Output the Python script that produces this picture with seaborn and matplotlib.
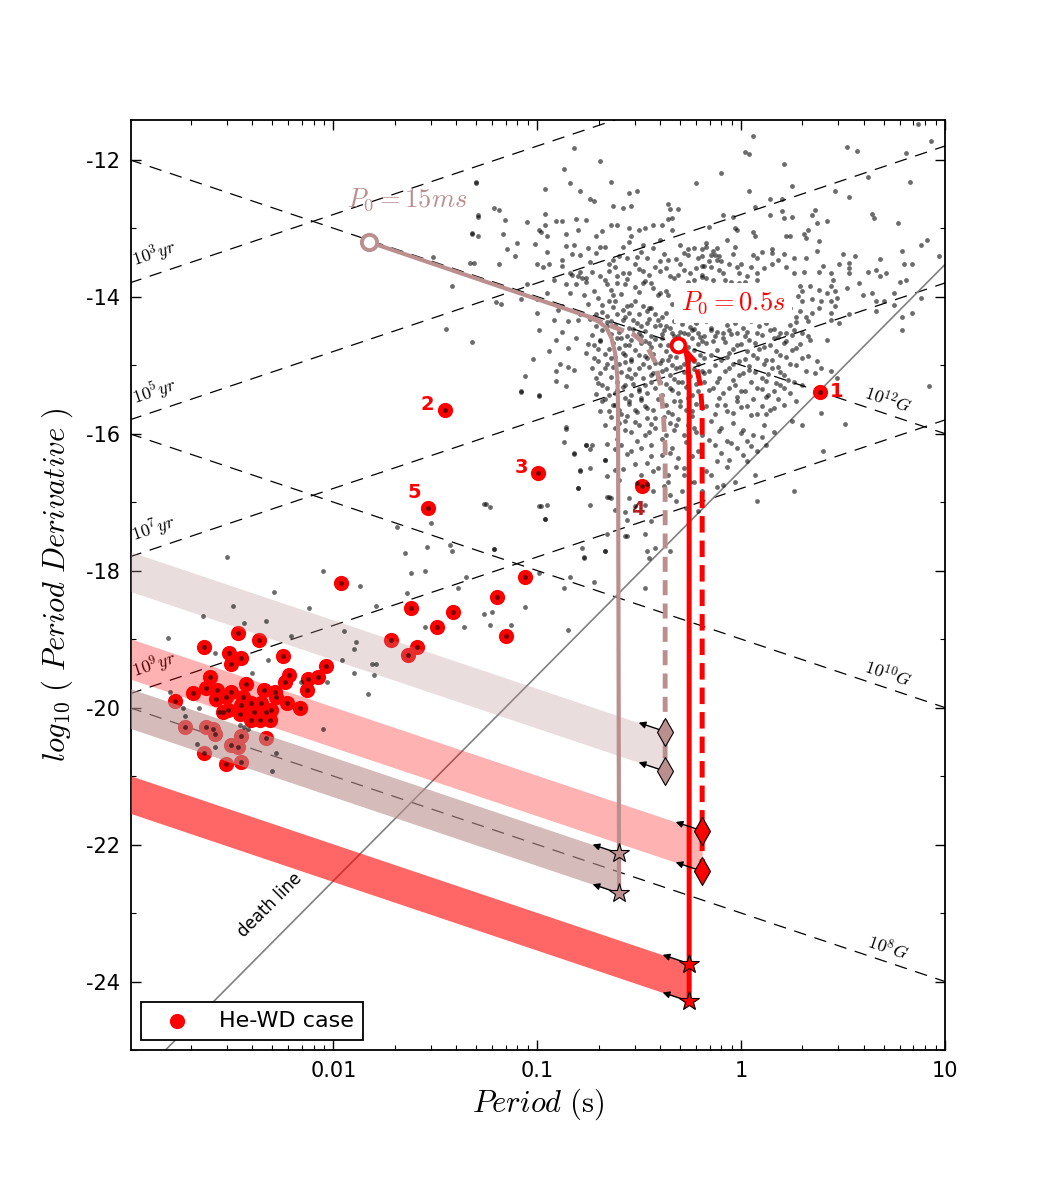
import numpy as np
import matplotlib
matplotlib.use("Agg")
import matplotlib.pyplot as plt
import seaborn as sns
from matplotlib.ticker import FixedLocator, MultipleLocator, LogLocator, NullFormatter

# ---------------- data ----------------
# radio pulsar population, (log10 P[s], log10 Pdot)
psr_upper_left = [
    (-0.82,-11.83),(-0.69,-12.02),(-0.87,-12.14),(-1.30,-12.33),(-0.84,-12.34),(-0.64,-12.32),(-0.96,-12.43),
    (-0.79,-12.45),(-0.55,-12.49),(-0.51,-12.45),(-0.74,-12.58),(-0.72,-12.61),(-0.63,-12.67),(-0.58,-12.70),
    (-0.54,-12.68),(-1.21,-12.71),(-1.19,-12.73),(-1.29,-12.83),(-0.96,-12.79),(-1.16,-12.88),(-0.81,-12.86),
    (-0.76,-12.88),(-0.35,-12.72),(-0.31,-12.72),(-0.36,-12.87),(-0.34,-12.85),(-0.22,-12.34),(-0.36,-12.64),
    (-1.05,-12.91),(-0.99,-13.03),(-0.98,-13.05),(-0.96,-12.95),(-0.91,-12.90),(-0.88,-12.89),(-1.32,-13.08),
    (-1.29,-13.12),(-1.17,-13.09),(-0.95,-13.11),(-0.86,-13.09),(-0.80,-13.02),(-0.71,-13.12),(-0.68,-13.04),
    (-0.64,-12.96),(-0.61,-12.96),(-0.55,-12.99),(-0.50,-13.02),(-0.47,-13.00),(-0.43,-12.95),(-0.39,-12.96),
    (-0.34,-13.02),(-1.10,-13.22),(-1.01,-13.23),(-0.86,-13.26),(-0.82,-13.24),(-0.75,-13.29),(-0.69,-13.27),
    (-0.67,-13.28),(-0.58,-13.28),(-0.55,-13.20),(-0.54,-13.12),(-0.48,-13.24),(-0.43,-13.29),(-0.40,-13.17),
    (-0.30,-13.25),(-0.26,-13.30),(-0.23,-13.29),(-0.19,-13.31),(-0.17,-13.22),(-1.33,-13.51),(-1.31,-13.51),
    (-1.19,-13.52),(-1.11,-13.41),(-1.15,-13.31),(-1.00,-13.53),(-0.94,-13.53),(-0.97,-13.57),(-0.88,-13.46),
    (-0.79,-13.39),(-0.65,-13.52),(-0.63,-13.46),(-0.56,-13.44),(-0.51,-13.42),(-0.46,-13.44),(-0.40,-13.48),
    (-0.36,-13.47),(-0.32,-13.45),(-0.26,-13.39),(-0.21,-13.44),(-0.19,-13.55),(-0.84,-13.65),(-0.83,-13.68),
    (-0.79,-13.64),(-0.80,-13.70),(-0.76,-13.73),(-0.73,-13.64),(-0.69,-13.70),(-0.65,-13.63),(-0.61,-13.70),
    (-0.58,-13.66),(-0.55,-13.65),(-0.50,-13.60),(-0.48,-13.62),(-0.45,-13.68),(-0.40,-13.63),(-0.37,-13.58),
    (-0.35,-13.70),(-0.31,-13.69),(-0.28,-13.61),(-0.25,-13.65),(-0.23,-13.75),(-0.19,-13.71),(-1.05,-13.81),
    (-0.86,-13.82),(-0.81,-13.81),(-0.76,-13.78),(-0.66,-13.82),(-0.64,-13.90),(-0.63,-13.97),(-0.61,-13.80),
    (-0.57,-13.82),(-0.52,-13.86),(-0.48,-13.80),(-0.44,-13.80),(-0.43,-13.87),(-0.40,-13.95),(-0.37,-13.91),
    (-0.36,-13.97),(-0.95,-13.94),(-1.00,-14.04),(-1.20,-14.08),(-1.18,-14.10),(-1.08,-14.04),(-0.90,-14.20),
    (-1.00,-14.24),(-0.77,-13.97),(-0.70,-14.02),(-0.68,-14.12),(-0.65,-14.07),(-0.62,-14.07),(-0.58,-14.19),
    (-0.56,-14.14),(-0.52,-14.07),(-0.48,-14.14),(-0.46,-14.21),(-0.44,-14.17),(-0.42,-14.26),(-0.41,-14.34),
    (-0.37,-14.24),(-0.50,-14.26),(-0.53,-14.34),(-0.57,-14.29),(-0.61,-14.26),(-0.64,-14.36),(-0.49,-14.43),
    (-0.46,-14.38),(-0.42,-14.43),(-0.37,-14.43),(-0.34,-14.53),(-0.31,-14.58),(-0.28,-14.53),(-0.24,-14.48),
    (-0.21,-14.53),(-0.18,-14.58),(-0.92,-14.34),(-0.85,-14.36),(-0.80,-14.34),(-0.99,-14.48),(-0.88,-14.52),
    (-0.71,-14.26),(-0.68,-14.23),(-0.66,-14.43),
    (-1.30,-12.34),(-1.51,-13.42),(-1.42,-13.85),(-1.45,-14.47),(-1.32,-14.66),(-1.32,-13.07),(-1.29,-12.80),
    (-0.95,-13.35),(-0.83,-13.38),(-0.71,-13.36),(-0.60,-13.40),(-0.49,-13.35),(-0.38,-13.38),(-0.28,-13.36),
    (-0.88,-13.55),(-0.74,-13.50),(-0.62,-13.57),(-0.52,-13.52),(-0.42,-13.56),(-0.30,-13.52),(-0.22,-13.58),
    (-0.92,-13.75),(-0.78,-13.72),(-0.67,-13.76),(-0.56,-13.74),(-0.47,-13.77),(-0.33,-13.73),(-0.26,-13.78),
    (-0.84,-13.95),(-0.72,-13.92),(-0.59,-13.96),(-0.50,-13.93),(-0.41,-13.97),(-0.30,-13.94),(-0.21,-13.97),
    (-0.88,-14.13),(-0.75,-14.10),(-0.63,-14.15),(-0.54,-14.12),(-0.45,-14.16),(-0.34,-14.11),(-0.26,-14.15),
    (-0.19,-14.12),(-0.79,-14.25),(-0.66,-14.28),(-0.55,-14.24),(-0.39,-14.29),(-0.29,-14.25),(-0.22,-14.28),
]
psr_upper_right = [
    (0.06,-11.65),(0.87,-11.48),(0.93,-11.72),(0.02,-11.88),(0.04,-11.92),(0.52,-11.81),(0.57,-11.87),
    (-0.10,-12.20),(0.21,-12.06),(0.81,-11.90),(0.83,-12.33),(0.62,-12.25),(0.04,-12.45),(0.25,-12.38),
    (0.46,-12.45),(0.53,-12.55),(0.14,-12.58),(0.20,-12.57),(0.20,-12.75),(0.07,-12.69),(-0.09,-12.80),
    (-0.04,-12.84),(0.14,-12.81),(0.21,-12.85),(0.25,-12.83),(0.35,-12.80),(0.36,-12.73),(0.42,-12.89),
    (0.37,-12.93),(0.64,-12.79),(0.65,-12.85),(0.77,-12.93),(-0.03,-13.00),(-0.02,-13.03),(-0.16,-12.98),
    (-0.07,-13.17),(0.06,-13.06),(0.07,-13.12),(0.22,-13.12),(0.24,-13.11),(0.31,-13.08),(0.33,-13.02),
    (0.32,-13.14),(0.38,-13.19),(-0.17,-13.27),(-0.12,-13.29),(-0.03,-13.28),(0.15,-13.30),(0.15,-13.36),
    (0.06,-13.39),(0.08,-13.43),(0.11,-13.58),(0.00,-13.52),(-0.02,-13.57),(0.18,-13.47),(0.26,-13.44),
    (0.32,-13.44),(0.48,-13.53),(0.53,-13.51),(0.53,-13.58),(0.56,-13.41),(0.68,-13.45),(0.79,-13.34),
    (0.80,-13.53),(0.84,-13.53),(0.88,-13.24),(0.91,-13.17),(0.97,-13.40),(-0.19,-13.41),(-0.15,-13.39),
    (-0.13,-13.39),(-0.11,-13.40),(-0.16,-13.48),(-0.12,-13.46),(-0.10,-13.48),(-0.15,-13.56),(-0.11,-13.61),
    (-0.09,-13.65),(-0.19,-13.68),(-0.17,-13.73),(-0.14,-13.75),(-0.08,-13.75),(-0.05,-13.79),(-0.01,-13.80),
    (0.02,-13.79),(0.08,-13.66),(0.08,-13.75),(-0.01,-13.65),(0.03,-13.70),(0.26,-13.65),(0.31,-13.64),
    (0.38,-13.64),(0.44,-13.65),(0.45,-13.75),(0.44,-13.85),(0.29,-13.85),(0.30,-13.91),(0.34,-13.85),
    (0.38,-13.90),(0.42,-13.95),(0.46,-13.92),(0.28,-13.99),(0.30,-14.07),(0.35,-14.04),(0.39,-14.07),
    (0.44,-14.07),(0.47,-14.02),(0.29,-14.21),(0.32,-14.29),(0.35,-14.24),(0.44,-14.24),(0.46,-14.14),
    (0.44,-14.34),(0.33,-14.36),(0.53,-13.65),(0.58,-13.80),(0.62,-13.64),(0.66,-13.61),(0.68,-13.70),
    (0.71,-13.66),(0.78,-13.78),(0.81,-13.75),(0.60,-13.97),(0.64,-13.95),(0.66,-14.07),(0.66,-14.21),
    (0.70,-14.07),(0.75,-14.12),(0.75,-13.95),(0.88,-14.02),(0.79,-14.29),(0.84,-14.24),(0.53,-14.26),
    (0.48,-14.38),(0.79,-14.48),(-0.15,-14.48),(-0.12,-14.51),(-0.09,-14.53),(-0.06,-14.49),(-0.02,-14.53),
    (0.03,-14.51),(0.08,-14.53),(0.14,-14.49),(0.19,-14.53),(0.22,-14.53),(0.26,-14.48),(0.30,-14.53),
    (-0.14,-13.33),(-0.04,-13.37),(0.10,-13.35),(0.21,-13.38),(0.37,-13.33),(0.50,-13.37),
    (-0.18,-13.55),(-0.06,-13.52),(0.05,-13.56),(0.15,-13.53),(0.22,-13.57),(0.40,-13.55),
    (-0.12,-13.86),(-0.02,-13.88),(0.07,-13.84),(0.14,-13.89),(0.22,-13.86),(0.52,-13.88),
    (-0.17,-14.02),(-0.07,-14.05),(0.04,-14.01),(0.12,-14.06),(0.19,-14.03),(0.38,-14.17),
    (-0.13,-14.18),(-0.03,-14.22),(0.07,-14.17),(0.16,-14.21),(0.24,-14.16),
    (-0.16,-14.28),(-0.06,-14.30),(0.03,-14.27),(0.11,-14.29),(0.20,-14.26),(0.27,-14.30),
]
psr_core = [
    (-0.72,-14.70),(-0.69,-14.65),(-0.65,-14.77),(-0.59,-14.60),(-0.57,-14.70),(-0.54,-14.63),(-0.49,-14.58),
    (-0.45,-14.68),(-0.39,-14.60),(-0.36,-14.70),(-0.26,-14.73),(-0.19,-14.65),(-0.70,-14.94),(-0.67,-15.04),
    (-0.64,-14.90),(-0.60,-14.99),(-0.57,-14.85),(-0.54,-14.94),(-0.50,-15.04),(-0.47,-14.87),(-0.42,-14.97),
    (-0.39,-15.09),(-0.36,-14.92),(-0.32,-15.04),(-0.28,-14.99),(-0.23,-14.94),(-0.19,-15.09),(-0.71,-15.19),
    (-0.68,-15.29),(-0.65,-15.43),(-0.61,-15.36),(-0.57,-15.29),(-0.54,-15.19),(-0.50,-15.38),(-0.47,-15.29),
    (-0.44,-15.14),(-0.40,-15.24),(-0.35,-15.33),(-0.31,-15.24),(-0.26,-15.29),(-0.21,-15.38),(-0.18,-15.24),
    (-0.68,-15.53),(-0.65,-15.67),(-0.62,-15.58),(-0.59,-15.72),(-0.55,-15.53),(-0.52,-15.65),(-0.49,-15.48),
    (-0.46,-15.63),(-0.42,-15.77),(-0.37,-15.58),(-0.34,-15.72),(-0.30,-15.53),(-0.24,-15.67),(-0.19,-15.63),
    (-0.67,-15.87),(-0.62,-15.92),(-0.57,-15.82),(-0.54,-15.97),(-0.50,-15.87),(-0.47,-16.02),(-0.42,-15.92),
    (-0.37,-16.02),(-0.32,-15.87),(-0.28,-16.02),(-0.23,-15.92),(-0.19,-16.02),(-0.59,-16.16),(-0.54,-16.26),
    (-0.49,-16.21),(-0.44,-16.16),(-0.39,-16.31),(-0.34,-16.21),(-0.31,-16.36),(-0.21,-16.26),(-0.52,-16.45),
    (-0.46,-16.43),(-0.41,-16.50),(-0.32,-16.48),(-0.28,-16.60),(-0.36,-16.60),(-0.49,-16.60),
    (-0.14,-14.65),(-0.09,-14.60),(-0.02,-14.70),(0.04,-14.63),(0.11,-14.73),(0.16,-14.60),(0.22,-14.65),
    (0.27,-14.75),(0.34,-14.63),(0.42,-14.63),(-0.15,-14.85),(-0.10,-14.92),(-0.06,-14.82),(-0.01,-14.94),
    (0.06,-14.85),(0.12,-14.92),(0.19,-14.85),(0.24,-14.99),(0.30,-14.90),(0.37,-14.94),(-0.16,-15.09),
    (-0.11,-15.19),(-0.06,-15.04),(-0.01,-15.14),(0.04,-15.07),(0.10,-15.19),(0.15,-15.04),(0.21,-15.14),
    (0.26,-15.24),(0.32,-15.09),(0.39,-15.04),(0.44,-15.09),(0.47,-15.19),(-0.14,-15.33),(-0.09,-15.41),
    (-0.03,-15.29),(0.02,-15.38),(0.08,-15.33),(0.13,-15.43),(0.19,-15.29),(0.24,-15.41),(0.27,-15.53),
    (0.30,-15.29),(0.39,-15.70),(-0.12,-15.58),(-0.07,-15.67),(-0.02,-15.53),(0.03,-15.60),(0.08,-15.72),
    (0.14,-15.65),(0.21,-15.58),(0.25,-15.82),(0.30,-15.87),(-0.15,-15.82),(-0.10,-15.92),(-0.04,-15.84),
    (0.01,-15.94),(0.06,-16.02),(0.11,-15.87),(0.16,-15.97),(-0.13,-16.16),(-0.07,-16.11),(-0.02,-16.21),
    (0.03,-16.11),(0.08,-16.26),(0.12,-16.16),(-0.12,-16.40),(-0.06,-16.38),(0.03,-16.40),(0.07,-16.60),
    (0.08,-16.99),(0.26,-16.84),(0.40,-16.26),(0.51,-15.86),(0.92,-15.31),(-0.09,-16.75),(-0.03,-16.70),
    (-0.15,-16.60),
]
psr_core_dense = [
    (-0.74,-14.33),(-0.66,-14.37),(-0.58,-14.34),(-0.51,-14.38),(-0.45,-14.32),(-0.33,-14.36),(-0.27,-14.33),
    (-0.22,-14.39),(-0.71,-14.43),(-0.62,-14.41),(-0.55,-14.45),(-0.40,-14.42),(-0.35,-14.46),(-0.29,-14.40),
    (-0.25,-14.44),(-0.68,-14.49),(-0.60,-14.51),(-0.53,-14.47),(-0.47,-14.50),(-0.38,-14.48),(-0.30,-14.52),
    (-0.23,-14.47),(-0.73,-14.56),(-0.64,-14.54),(-0.56,-14.57),(-0.50,-14.53),(-0.44,-14.58),(-0.39,-14.55),
    (-0.33,-14.57),(-0.26,-14.55),(-0.20,-14.59),(-0.69,-14.63),(-0.61,-14.61),(-0.47,-14.64),(-0.42,-14.62),
    (-0.31,-14.65),(-0.24,-14.61),(-0.75,-14.69),(-0.63,-14.67),(-0.55,-14.71),(-0.49,-14.68),(-0.40,-14.70),
    (-0.34,-14.67),(-0.28,-14.71),(-0.21,-14.69),(-0.70,-14.77),(-0.60,-14.75),(-0.52,-14.78),(-0.44,-14.74),
    (-0.37,-14.79),(-0.30,-14.76),(-0.23,-14.78),(-0.67,-14.84),(-0.58,-14.82),(-0.50,-14.85),(-0.43,-14.83),
    (-0.35,-14.86),(-0.27,-14.82),(-0.20,-14.85),(-0.72,-14.90),(-0.62,-14.88),(-0.54,-14.91),(-0.46,-14.89),
    (-0.39,-14.92),(-0.32,-14.88),(-0.25,-14.91),(-0.66,-14.98),(-0.57,-14.96),(-0.48,-14.99),(-0.40,-14.97),
    (-0.34,-15.00),(-0.26,-14.96),(-0.21,-14.99),(-0.73,-15.04),(-0.63,-15.02),(-0.55,-15.05),(-0.45,-15.03),
    (-0.37,-15.06),(-0.30,-15.02),(-0.23,-15.05),(-0.69,-15.12),(-0.59,-15.10),(-0.52,-15.13),(-0.43,-15.11),
    (-0.35,-15.14),(-0.28,-15.10),(-0.21,-15.13),(-0.64,-15.18),(-0.56,-15.16),(-0.48,-15.19),(-0.41,-15.17),
    (-0.33,-15.20),(-0.25,-15.16),(-0.70,-15.26),(-0.61,-15.24),(-0.53,-15.27),(-0.44,-15.25),(-0.37,-15.28),
    (-0.29,-15.24),(-0.22,-15.27),(-0.66,-15.34),(-0.58,-15.32),(-0.50,-15.35),(-0.42,-15.33),(-0.34,-15.36),
    (-0.27,-15.32),(-0.71,-15.42),(-0.62,-15.40),(-0.54,-15.43),(-0.46,-15.41),(-0.39,-15.44),(-0.31,-15.40),
    (-0.24,-15.43),(-0.67,-15.50),(-0.57,-15.48),(-0.49,-15.51),(-0.41,-15.49),(-0.33,-15.52),(-0.26,-15.48),
    (-0.63,-15.58),(-0.55,-15.56),(-0.47,-15.59),(-0.39,-15.57),(-0.30,-15.60),(-0.22,-15.56),(-0.69,-15.67),
    (-0.60,-15.65),(-0.51,-15.68),(-0.43,-15.66),(-0.36,-15.69),(-0.27,-15.65),(-0.64,-15.76),(-0.56,-15.74),
    (-0.46,-15.77),(-0.38,-15.75),(-0.31,-15.78),(-0.24,-15.74),(-0.60,-15.85),(-0.52,-15.83),(-0.44,-15.86),
    (-0.35,-15.84),(-0.26,-15.87),
    (-0.17,-14.36),(-0.10,-14.33),(-0.03,-14.38),(0.05,-14.35),(0.12,-14.39),(0.20,-14.34),(0.27,-14.37),
    (-0.15,-14.45),(-0.07,-14.42),(0.01,-14.46),(0.09,-14.43),(0.16,-14.47),(0.24,-14.42),(-0.13,-14.57),
    (-0.05,-14.55),(0.02,-14.58),(0.10,-14.56),(0.18,-14.59),(0.25,-14.56),(0.33,-14.58),(-0.17,-14.68),
    (-0.08,-14.66),(0.00,-14.69),(0.07,-14.67),(0.14,-14.70),(0.21,-14.67),(0.29,-14.69),(-0.12,-14.78),
    (-0.04,-14.76),(0.03,-14.79),(0.09,-14.77),(0.17,-14.80),(0.25,-14.78),(-0.18,-14.90),(-0.07,-14.88),
    (0.02,-14.91),(0.08,-14.89),(0.15,-14.92),(0.22,-14.88),(0.33,-14.87),(-0.13,-15.00),(-0.04,-14.98),
    (0.04,-15.01),(0.11,-14.99),(0.18,-15.02),(0.27,-15.00),(-0.18,-15.11),(-0.08,-15.09),(0.01,-15.12),
    (0.07,-15.10),(0.13,-15.13),(0.19,-15.10),(0.36,-15.12),(-0.12,-15.24),(-0.04,-15.22),(0.05,-15.25),
    (0.12,-15.23),(0.17,-15.26),(0.23,-15.22),(-0.16,-15.36),(-0.06,-15.34),(0.00,-15.37),(0.10,-15.35),
    (0.16,-15.38),(0.21,-15.34),(-0.11,-15.48),(-0.02,-15.46),(0.06,-15.49),(0.12,-15.47),(0.18,-15.50),
    (-0.17,-15.60),(-0.08,-15.58),(0.00,-15.61),(0.10,-15.59),(0.16,-15.62),(-0.13,-15.72),(-0.04,-15.70),
    (0.05,-15.73),(0.12,-15.71),
    (-0.57,-15.95),(-0.45,-15.98),(-0.33,-15.95),(-0.22,-15.98),(-0.11,-15.96),(0.00,-15.99),(0.10,-16.05),
    (-0.61,-16.08),(-0.51,-16.11),(-0.39,-16.08),(-0.27,-16.12),(-0.16,-16.09),(-0.05,-16.13),(0.05,-16.18),
    (-0.56,-16.30),(-0.44,-16.33),(-0.35,-16.28),(-0.24,-16.32),(-0.10,-16.28),(0.01,-16.31),
    (-0.58,-16.52),(-0.43,-16.55),(-0.28,-16.50),(-0.17,-16.54),(-0.07,-16.49),
    (-0.51,-16.72),(-0.38,-16.76),(-0.25,-16.71),(-0.12,-16.78),
]
psr_lower = [
    (-0.91,-14.63),(-0.81,-14.61),(-0.94,-14.80),(-0.85,-14.75),(-0.76,-14.82),(-1.02,-14.91),(-1.06,-15.16),
    (-1.08,-15.37),(-0.99,-15.44),(-0.91,-15.09),(-0.89,-14.98),(-0.85,-15.02),(-0.82,-15.07),(-0.91,-15.23),
    (-0.86,-15.31),(-0.86,-15.93),(-0.87,-16.12),(-0.82,-16.28),(-0.76,-16.16),(-0.73,-16.16),(-0.66,-16.15),
    (-0.67,-16.39),(-0.62,-16.23),(-0.62,-16.53),(-0.66,-16.62),(-0.79,-16.54),(-0.80,-16.79),(-0.98,-17.06),
    (-0.95,-17.04),(-0.96,-17.25),(-1.26,-17.03),(-1.23,-17.07),(-1.21,-17.69),(-0.74,-17.04),(-0.66,-16.93),
    (-0.64,-16.94),(-0.62,-17.11),(-0.66,-17.47),(-0.56,-17.50),(-0.67,-17.72),(-0.77,-17.81),(-0.78,-17.67),
    (-0.56,-17.26),(-0.47,-17.47),(-0.44,-17.28),(-0.42,-17.67),(-0.45,-17.81),(-0.55,-16.94),(-0.52,-17.06),
    (-0.47,-17.04),(-0.43,-16.84),(-0.46,-16.74),(-0.36,-16.70),(-0.35,-16.89),(-0.32,-16.99),(-0.29,-16.84),
    (-0.23,-16.70),(-0.19,-16.84),(-0.27,-17.09),(-0.21,-17.13),
    (-1.08,-15.39),(-0.99,-15.45),(-0.86,-15.91),(-0.82,-16.29),(-0.76,-16.16),(-0.74,-16.23),(-0.80,-16.79),
    (-0.79,-16.53),(-0.74,-16.50),(-0.67,-16.38),(-1.25,-17.02),(-0.99,-17.05),(-0.96,-17.24),(-1.52,-17.30),
    (-1.69,-17.36),(-1.54,-17.66),(-1.43,-17.62),(-1.42,-17.71),(-1.21,-17.69),(-1.65,-17.75),(-1.62,-18.03),
    (-1.55,-18.00),(-1.35,-18.09),(-0.99,-18.04),(-0.84,-18.09),(-0.72,-18.16),(-0.87,-18.26),(-0.77,-17.80),
    (-0.67,-17.72),(-0.57,-17.50),(-0.46,-17.71),(-0.35,-17.72),(-0.47,-18.25),(-0.65,-16.93),(-0.57,-17.15),
    (-0.60,-16.67),(-1.64,-18.32),(-1.39,-18.26),(-1.26,-18.63),(-1.22,-18.60),(-1.23,-18.79),(-1.55,-18.82),
    (-1.36,-18.83),(-1.13,-18.79),(-1.06,-18.53),(-0.85,-18.86),
]
psr_msp = [
    (-2.52,-17.80),(-2.05,-18.01),(-1.87,-18.23),(-2.29,-18.31),(-2.49,-18.51),(-2.12,-18.54),(-1.79,-18.51),
    (-2.64,-18.66),(-2.44,-18.77),(-2.33,-18.74),(-1.95,-18.88),(-1.89,-19.04),(-1.90,-19.14),(-2.21,-18.95),
    (-2.81,-18.98),(-2.58,-19.20),(-2.32,-19.30),(-1.96,-19.31),(-1.81,-19.36),(-1.79,-19.36),(-2.40,-19.49),
    (-1.90,-19.50),(-1.80,-19.52),(-2.16,-19.62),(-2.03,-19.62),(-2.80,-19.77),(-1.83,-19.80),(-2.74,-20.01),
    (-2.66,-20.00),(-2.73,-20.12),(-2.56,-20.07),(-2.05,-20.31),(-2.46,-20.26),(-2.44,-20.28),(-2.42,-20.31),
    (-2.67,-20.53),(-2.58,-20.57),(-2.28,-20.66),(-2.30,-20.92),
]

# He-WD binary pulsars, (P [s], log10 Pdot)
hewd = [
    (0.01094,-18.18),(0.00342,-18.91),(0.00434,-19.02),(0.00231,-19.11),(0.00309,-19.21),(0.00354,-19.27),
    (0.00316,-19.37),(0.00569,-19.24),(0.00925,-19.39),(0.00608,-19.52),(0.00582,-19.62),(0.00753,-19.58),
    (0.00843,-19.55),(0.00746,-19.75),(0.00247,-19.56),(0.00236,-19.72),(0.00206,-19.78),(0.00168,-19.91),
    (0.00270,-19.75),(0.00267,-19.87),(0.00316,-19.77),(0.00296,-19.84),(0.00371,-19.65),(0.00362,-19.84),
    (0.00459,-19.74),(0.00520,-19.77),(0.00526,-19.85),(0.00289,-20.06),(0.00305,-20.03),(0.00354,-19.96),
    (0.00350,-20.10),(0.00396,-19.93),(0.00406,-20.07),(0.00444,-19.93),(0.00465,-20.07),(0.00497,-20.03),
    (0.00491,-20.18),(0.00589,-19.94),(0.00689,-20.01),(0.00396,-20.18),(0.00439,-20.18),(0.00188,-20.29),
    (0.00236,-20.28),(0.00258,-20.31),(0.00264,-20.39),(0.00316,-20.54),(0.00354,-20.42),(0.00342,-20.58),
    (0.00465,-20.44),(0.00354,-20.79),(0.00233,-20.66),(0.00296,-20.83),(0.0873,-18.09),(0.0637,-18.39),
    (0.0241,-18.54),(0.0387,-18.61),(0.0324,-18.83),(0.0705,-18.96),(0.0192,-19.01),(0.0233,-19.23),
    (0.0258,-19.12),
]
numbered_P = [2.44, 0.0354, 0.101, 0.327, 0.0292]
numbered_logPdot = [-15.39, -15.65, -16.57, -16.76, -17.08]
numbered_text = ["1", "2", "3", "4", "5"]

# reference lines: value at P = 0.001 s and at P = 10 s
age_names = [r"$10^3yr$", r"$10^5yr$", r"$10^7yr$", r"$10^9yr$"]
age_left = [-13.8, -15.8, -17.8, -19.8]
age_right = [-9.8, -11.8, -13.8, -15.8]
field_names = [r"$10^{12}G$", r"$10^{10}G$", r"$10^8G$"]
field_left = [-12.0, -16.0, -20.0]
field_right = [-16.0, -20.0, -24.0]
death_left, death_right = -25.53, -13.53

# evolution tracks
track15_P = [0.0149, 0.178, 0.199, 0.218, 0.231, 0.241, 0.247, 0.249, 0.252]
track15_logPdot = [-13.20, -14.29, -14.36, -14.45, -14.60, -14.82, -15.17, -15.55, -22.70]
track15d_P = [0.178, 0.236, 0.296, 0.342, 0.378, 0.401, 0.415, 0.424, 0.424]
track15d_logPdot = [-14.29, -14.44, -14.55, -14.70, -14.95, -15.28, -15.69, -16.19, -20.91]
track05_P = [0.490, 0.514, 0.537, 0.550, 0.556, 0.556]
track05_logPdot = [-14.70, -14.73, -14.80, -14.99, -15.36, -24.29]
track05d_P = [0.526, 0.596, 0.630, 0.644, 0.644]
track05d_logPdot = [-14.77, -14.95, -15.28, -15.65, -22.39]

# shaded bands (edges at P = 0.001 s and at the end period)
band_top_left = [-17.72, -18.99, -19.72, -20.99]
band_bot_left = [-18.30, -19.58, -20.30, -21.54]
band_P_end = [0.424, 0.644, 0.252, 0.556]
band_top_right = [-20.35, -21.80, -22.13, -23.74]
band_bot_right = [-20.93, -22.39, -22.71, -24.29]

# ---------------- style ----------------
sns.set_style("ticks")
plt.rcParams.update({
    "font.family": ["DejaVu Sans"],
    "mathtext.fontset": "cm",
    "axes.unicode_minus": False,
    "xtick.direction": "in", "ytick.direction": "in",
    "xtick.top": True, "ytick.right": True,
    "xtick.major.size": 7, "ytick.major.size": 7,
    "xtick.minor.size": 3.5, "ytick.minor.size": 3.5,
    "xtick.major.width": 1, "ytick.major.width": 1,
    "xtick.minor.width": 0.8, "ytick.minor.width": 0.8,
    "xtick.color": "k", "ytick.color": "k",
    "axes.edgecolor": "k", "axes.linewidth": 1.3,
    "text.color": "k", "axes.labelcolor": "k",
})

brown = "#bc8f8f"
band_colors = [brown, "red", brown, "red"]
band_alpha = [0.3, 0.3, 0.6, 0.6]
band_marker = ["d", "d", "*", "*"]

fig = plt.figure(figsize=(10.5, 12), dpi=100)
ax = fig.add_axes([0.125, 0.125, 0.775, 0.775])
ax.set_xscale("log")

P_lim = [1e-3, 10.0]
for lo, hi in zip(age_left, age_right):
    ax.plot(P_lim, [lo, hi], color="k", lw=0.9, dashes=(10, 7), zorder=1.5)
for lo, hi in zip(field_left, field_right):
    ax.plot(P_lim, [lo, hi], color="k", lw=0.9, dashes=(10, 7), zorder=1.5)
ax.plot(P_lim, [death_left, death_right], color="gray", lw=1.2, zorder=1.6)

for name, lo in zip(age_names, age_left):
    ax.text(10**-2.88, lo + 0.42, name, fontsize=13, rotation=18.6,
            ha="center", va="center", rotation_mode="anchor")
for name, hi in zip(field_names, field_right):
    ax.text(10**0.72, hi + 0.48, name, fontsize=13, rotation=-18.6,
            ha="center", va="center", rotation_mode="anchor")
ax.text(0.0049, -22.88, "death line", fontsize=12, rotation=45,
        ha="center", va="center", rotation_mode="anchor")

# bands
for tl, bl, pe, tr, br, c, a in zip(band_top_left, band_bot_left, band_P_end,
                                     band_top_right, band_bot_right, band_colors, band_alpha):
    ax.fill_between([1e-3, pe], [tl, tr], [bl, br], color=c, alpha=a, lw=0, zorder=3)

# He-WD systems
hewd_arr = np.array(hewd)
sns.scatterplot(x=hewd_arr[:, 0], y=hewd_arr[:, 1], ax=ax, color="red", s=120,
                linewidth=0, zorder=2, label="He-WD case")
sns.scatterplot(x=numbered_P, y=numbered_logPdot, ax=ax, color="red", s=120,
                linewidth=0, zorder=2, legend=False)

# pulsar population
psr = np.array(psr_upper_left + psr_upper_right + psr_core + psr_core_dense + psr_lower + psr_msp)
all_x = np.concatenate([10**psr[:, 0], hewd_arr[:, 0], numbered_P])
all_y = np.concatenate([psr[:, 1], hewd_arr[:, 1], numbered_logPdot])
sns.scatterplot(x=all_x, y=all_y, ax=ax, color="k", s=12, alpha=0.58,
                linewidth=0, zorder=4, legend=False)

# tracks
ax.plot(track15_P, track15_logPdot, color=brown, lw=3, zorder=5, solid_capstyle="butt")
ax.plot(track15d_P, track15d_logPdot, color=brown, lw=3.5, dashes=(3.1, 1.7), zorder=5)
ax.plot(track05_P, track05_logPdot, color="red", lw=3.6, zorder=5, solid_capstyle="butt")
ax.plot(track05d_P, track05d_logPdot, color="red", lw=3.6, dashes=(3.3, 1.6), zorder=5)
ax.plot(track15_P[0], track15_logPdot[0], "o", ms=11, mfc="white", mec=brown, mew=2.8, zorder=6)
ax.plot(track05_P[0], track05_logPdot[0], "o", ms=10, mfc="white", mec="red", mew=2.8, zorder=6)

# end markers with arrows
for pe, tr, br, c, m in zip(band_P_end, band_top_right, band_bot_right, band_colors, band_marker):
    for yv in (tr, br):
        ax.annotate("", xy=(pe * 10**-0.13, yv + 0.13), xytext=(pe, yv),
                    arrowprops=dict(arrowstyle="-|>", color="k", lw=1,
                                    mutation_scale=10, shrinkA=5, shrinkB=0),
                    zorder=6)
        ax.plot(pe, yv, marker=m, ms=15 if m == "*" else 14, mfc=c, mec="k", mew=0.8,
                ls="none", zorder=7)

# labels
ax.text(0.0229, -12.58, r"$P_0=15ms$", color=brown, fontsize=19, ha="center", va="center")
ax.text(0.914, -14.09, r"$P_0=0.5s$", color="red", fontsize=19, ha="center", va="center",
        bbox=dict(facecolor="white", edgecolor="none", pad=5), zorder=6.5)

offsets = [(7, 0, "left"), (-8, 4, "right"), (-7, 4, "right"), (-3, -17, "center"), (-10, 11, "center")]
for p, v, t, (dx, dy, ha) in zip(numbered_P, numbered_logPdot, numbered_text, offsets):
    ax.annotate(t, (p, v), xytext=(dx, dy), textcoords="offset points", ha=ha, va="center",
                color="firebrick" if t == "4" else "red", fontsize=14, fontweight="bold")

# axes
ax.set_xlim(1.02e-3, 10)
ax.set_ylim(-25, -11.42)
ax.xaxis.set_major_locator(FixedLocator([0.01, 0.1, 1, 10]))
ax.xaxis.set_minor_locator(LogLocator(base=10, subs=np.arange(2, 10)))
ax.xaxis.set_minor_formatter(NullFormatter())
ax.set_xticklabels(["0.01", "0.1", "1", "10"])
ax.yaxis.set_major_locator(MultipleLocator(2))
ax.yaxis.set_minor_locator(MultipleLocator(1))
ax.tick_params(labelsize=15, pad=8)
ax.set_xlabel(r"$Period\ \mathrm{(s)}$", fontsize=22, labelpad=4)
ax.set_ylabel(r"$log_{10}\ (\ Period\ Derivative\ )$", fontsize=22, labelpad=8)

leg = ax.legend(loc="lower left", fontsize=16, frameon=True, fancybox=False, framealpha=1,
                edgecolor="k", borderpad=0.4, handlelength=2.4, handletextpad=0.7,
                borderaxespad=0.45, scatterpoints=1)
leg.get_frame().set_linewidth(1.3)

fig.savefig("out.png", dpi=100)
